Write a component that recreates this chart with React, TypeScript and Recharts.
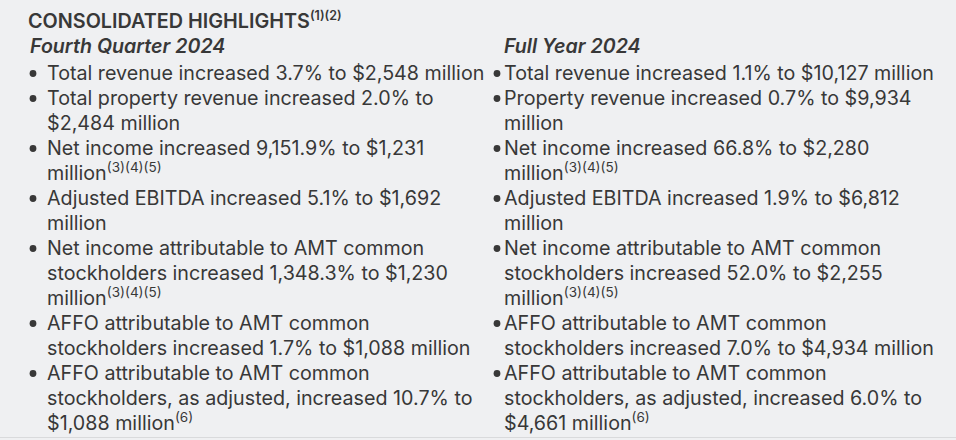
import { Scatter, ScatterChart, XAxis, YAxis } from 'recharts'

// Text panel drawn as a scatter: each text line is a point (x = column, y = line index).
const TITLE = 'CONSOLIDATED HIGHLIGHTS'
const TITLE_NOTES = '(1)(2)'
const HEADINGS = ['Fourth Quarter 2024', 'Full Year 2024']

const Q4_ITEMS: string[][] = [
  ['Total revenue increased 3.7% to $2,548 million'],
  ['Total property revenue increased 2.0% to', '$2,484 million'],
  ['Net income increased 9,151.9% to $1,231', 'million'],
  ['Adjusted EBITDA increased 5.1% to $1,692', 'million'],
  ['Net income attributable to AMT common', 'stockholders increased 1,348.3% to $1,230', 'million'],
  ['AFFO attributable to AMT common', 'stockholders increased 1.7% to $1,088 million'],
  ['AFFO attributable to AMT common', 'stockholders, as adjusted, increased 10.7% to', '$1,088 million'],
]
const Q4_NOTES = ['', '', '(3)(4)(5)', '', '(3)(4)(5)', '', '(6)']

const FY_ITEMS: string[][] = [
  ['Total revenue increased 1.1% to $10,127 million'],
  ['Property revenue increased 0.7% to $9,934', 'million'],
  ['Net income increased 66.8% to $2,280', 'million'],
  ['Adjusted EBITDA increased 1.9% to $6,812', 'million'],
  ['Net income attributable to AMT common', 'stockholders increased 52.0% to $2,255', 'million'],
  ['AFFO attributable to AMT common', 'stockholders increased 7.0% to $4,934 million'],
  ['AFFO attributable to AMT common', 'stockholders, as adjusted, increased 6.0% to', '$4,661 million'],
]
const FY_NOTES = ['', '', '(3)(4)(5)', '', '(3)(4)(5)', '', '(6)']

const TEXT = '#383838'
const BG = '#eff0f2'
const FONT = 'Inter, "Noto Sans", sans-serif'

interface Row {
  x: number
  y: number
  kind: 'title' | 'heading' | 'line'
  text: string
  note: string
  bullet: boolean
}

const rows: Row[] = [{ x: 0, y: -2, kind: 'title', text: TITLE, note: TITLE_NOTES, bullet: false }]
;[
  { items: Q4_ITEMS, notes: Q4_NOTES },
  { items: FY_ITEMS, notes: FY_NOTES },
].forEach((col, c) => {
  rows.push({ x: c, y: -1, kind: 'heading', text: HEADINGS[c], note: '', bullet: false })
  let line = 0
  col.items.forEach((lines, i) => {
    lines.forEach((t, j) => {
      rows.push({
        x: c,
        y: line++,
        kind: 'line',
        text: t,
        note: j === lines.length - 1 ? col.notes[i] : '',
        bullet: j === 0,
      })
    })
  })
})

function TextLine(props: any) {
  const { cx, cy, payload } = props
  const r = payload as Row
  if (r.kind === 'title') {
    return (
      <text x={cx - 19} y={cy - 2} fill={TEXT} fontFamily={FONT} fontSize={19.8} fontWeight={600}>
        {r.text}
        <tspan fontSize={12.5} dy={-8}>{r.note}</tspan>
      </text>
    )
  }
  if (r.kind === 'heading') {
    return (
      <text x={cx - 17 + (r.x ? 17 : 0)} y={cy - 2} fill={TEXT} fontFamily={FONT} fontSize={19.6} fontWeight={600} fontStyle="italic">
        {r.text}
      </text>
    )
  }
  const bx = r.x === 0 ? cx - 14 : cx - 7
  return (
    <g>
      {r.bullet && <circle cx={bx} cy={cy - 6.5} r={3.4} fill={TEXT} />}
      <text x={cx} y={cy} fill={TEXT} fontFamily={FONT} fontSize={19.7}>
        {r.text}
        {r.note && <tspan fontSize={13.5} dy={-8}>{r.note}</tspan>}
      </text>
    </g>
  )
}

export default function App() {
  return (
    <div style={{ position: 'absolute', left: 0, top: 0, width: 956, height: 440, background: BG }}>
      <style>{'body{margin:0}'}</style>
      <ScatterChart width={956} height={440} margin={{ top: 30, right: 452, bottom: 10, left: 47 }}>
        <XAxis type="number" dataKey="x" domain={[0, 1]} hide />
        <YAxis type="number" dataKey="y" domain={[-2, 14]} reversed hide />
        <Scatter data={rows} shape={TextLine} isAnimationActive={false} />
      </ScatterChart>
      <div style={{ position: 'absolute', left: 0, right: 0, bottom: 2, height: 1, background: '#d9dadc' }} />
    </div>
  )
}
